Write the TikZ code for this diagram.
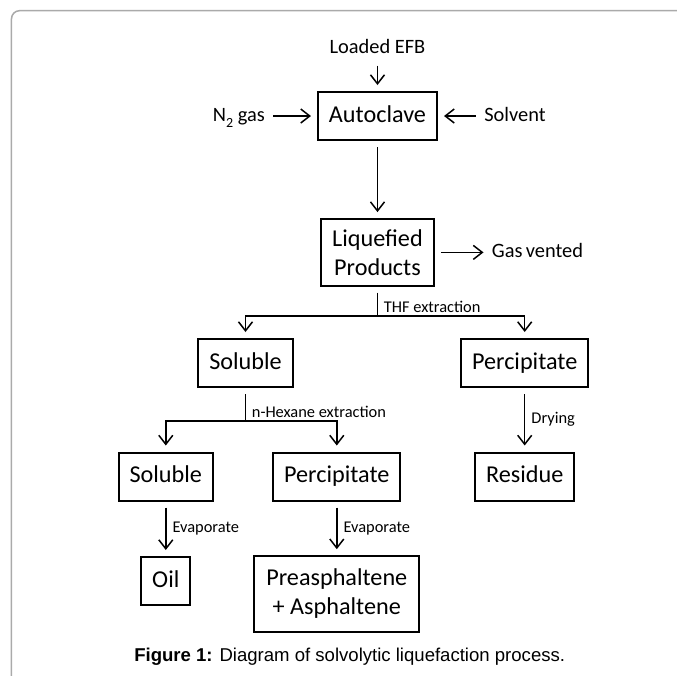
\documentclass[tikz,border=0pt]{standalone}
\usepackage{fontspec}
\usepackage{tikz}
\usetikzlibrary{arrows.meta,positioning}
\setmainfont{Carlito}
\newfontfamily\capfont{Liberation Sans}
\definecolor{framegray}{RGB}{170,170,170}
\newcommand{\boxsize}{\fontsize{12.1}{14.5}\selectfont}
\newcommand{\feedsize}{\fontsize{10.2}{12}\selectfont}
\newcommand{\notesize}{\fontsize{8.2}{10}\selectfont}

\begin{document}
\begin{tikzpicture}[
    x=0.5pt, y=-0.5pt,
    node distance=20pt, on grid,
    box/.style={rectangle, draw, line width=1pt, font=\boxsize, inner xsep=5.5pt, align=center},
    stage/.style={box, minimum height=24pt, text height=8.6pt, text depth=2.4pt},
    tallstage/.style={box, minimum height=#1},
    feed/.style={font=\feedsize, inner sep=1pt, text height=7.2pt, text depth=2pt},
    note/.style={font=\notesize, inner xsep=3pt, inner ysep=1.5pt},
    link/.style={line width=0.75pt, shorten <=3pt, shorten >=3pt, -{Straight Barb[length=4.5pt,width=7pt,line width=0.75pt]}},
    split/.style={line width=0.75pt, shorten <=3pt},
    branch/.style={line width=0.75pt, shorten >=3pt, -{Straight Barb[length=4.5pt,width=7pt,line width=0.75pt]}},
    frame/.style={draw=framegray, line width=0.75pt, rounded corners=4pt}
]
    \useasboundingbox (0,0) rectangle (677,676);
    \draw[frame] (11.5,676) |- (677,10.7);

    % Reactor
    \node[stage] (autoclave) at (377.5,116) {Autoclave};
    \node[feed, above=34pt of autoclave] (loaded) {Loaded EFB};
    \node[feed, left=69.3pt of autoclave] (nitrogen) {N\smash{\raisebox{-0.6ex}{\fontsize{7}{8}\selectfont 2}} gas};
    \node[feed, right=68.75pt of autoclave] (solvent) {Solvent};
    \node[tallstage=33.3pt, below=68.2pt of autoclave] (liquefied) {Liquefied\\Products};
    \node[feed, right=80pt of liquefied] (vented) {Gas\,vented};

    % THF separation
    \coordinate[below=14.65pt of liquefied.south] (thf);
    \node[stage, below left=55.3pt and 66pt of liquefied] (soluble) {Soluble};
    \node[stage, below right=55.3pt and 73.6pt of liquefied] (percip) {Percipitate};

    % n-Hexane separation
    \coordinate[below=16.5pt of soluble.south] (hexane);
    \node[stage, below left=56.75pt and 39.85pt of soluble] (hexsoluble) {Soluble};
    \node[stage, below right=56.75pt and 45.65pt of soluble] (hexpercip) {Percipitate};
    \node[stage, below=56.75pt of percip] (residue) {Residue};
    \node[stage, below=52.25pt of hexsoluble] (oil) {Oil};
    \node[tallstage=37.8pt, below=58.75pt of hexpercip, inner xsep=6pt] (asphaltene) {Preasphaltene\\+ Asphaltene};

    \node[font=\capfont\fontsize{9.28}{11}\selectfont] (caption) at (349.7,657) {\textbf{Figure 1:} Diagram of solvolytic liquefaction process.};

    % Flows
    \draw[link] (loaded) -- (autoclave);
    \draw[link] (nitrogen) -- (autoclave);
    \draw[link] (solvent) -- (autoclave);
    \draw[link] (autoclave) -- (liquefied);
    \draw[link] (liquefied) -- (vented);
    \draw[split] (liquefied) -- (thf);
    \node[note, anchor=south west] at (thf) {THF extraction};
    \draw[branch] (thf) -| (soluble);
    \draw[branch] (thf) -| (percip);
    \draw[split] (soluble) -- (hexane);
    \node[note, anchor=south west] at (hexane) {n-Hexane extraction};
    \draw[branch] (hexane) -| (hexsoluble);
    \draw[branch] (hexane) -| (hexpercip);
    \draw[link] (percip) -- node[note, right] {Drying} (residue);
    \draw[link] (hexsoluble) -- node[note, right] {Evaporate} (oil);
    \draw[link] (hexpercip) -- node[note, right] {Evaporate} (asphaltene);
\end{tikzpicture}
\end{document}
